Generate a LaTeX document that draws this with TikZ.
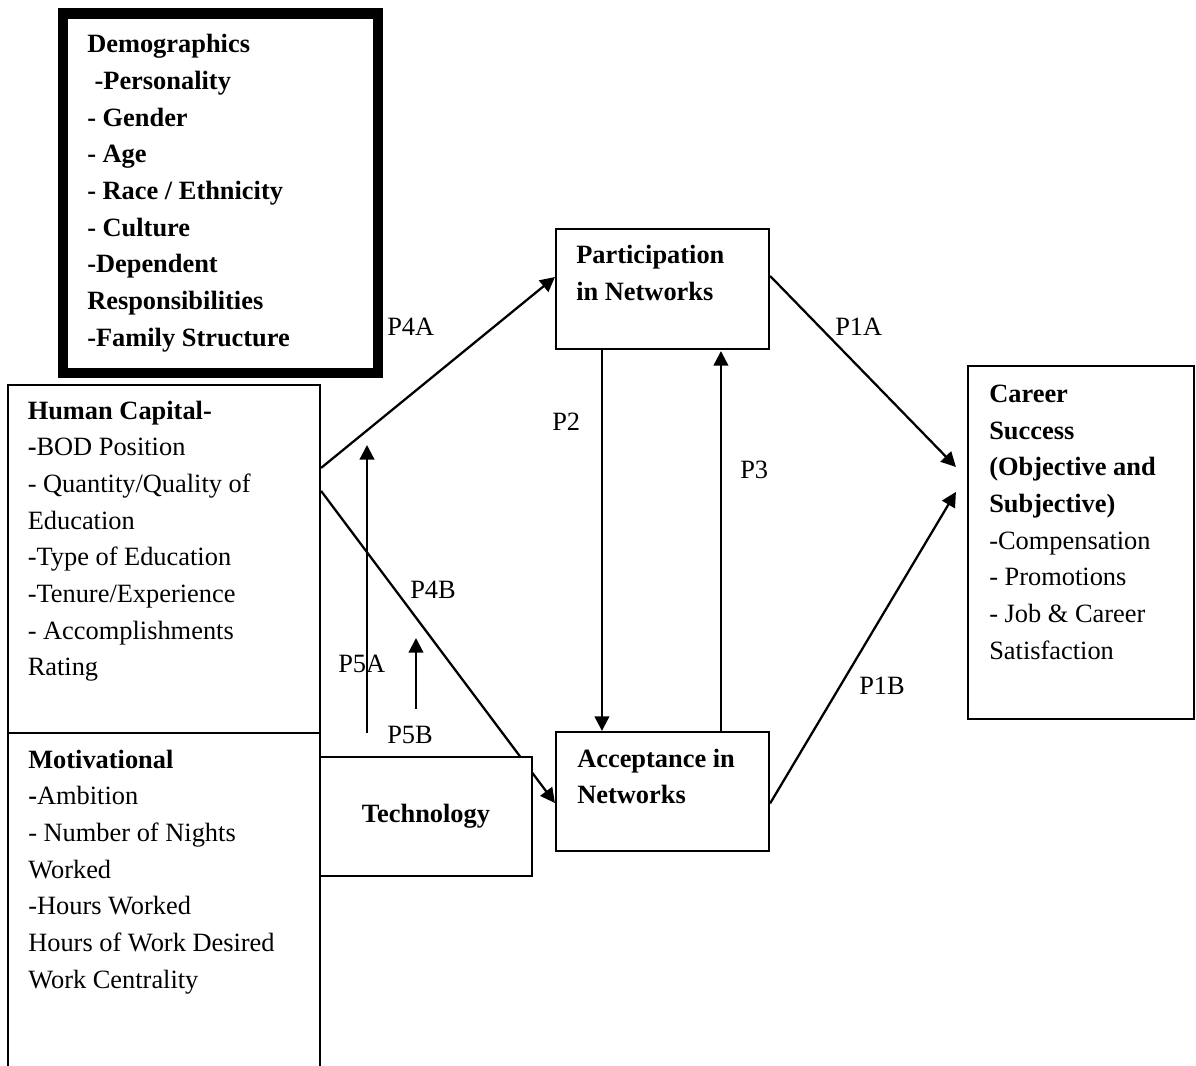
\documentclass[tikz,border=0pt]{standalone}
\usepackage{fontspec}
\setmainfont{Liberation Serif}
\usetikzlibrary{arrows.meta,calc}
\begin{document}
\begin{tikzpicture}[x=0.75pt,y=-0.75pt,
  box/.style={draw,line width=1.6pt,inner sep=0pt,fill=white},
  txt/.style={inner sep=0pt,anchor=base west,align=left,font=\fontsize{19.8pt}{27.5pt}\selectfont},
  btxt/.style={txt,font=\fontsize{19.8pt}{27.5pt}\selectfont\bfseries},
  lbl/.style={inner sep=0pt,anchor=base west,font=\fontsize{19.8pt}{27.5pt}\selectfont},
  arr/.style={line width=1.7pt,-{Triangle[length=11pt,width=11pt]}}]
\useasboundingbox (0,0) rectangle (1196,1065);

% boxes
\node[box,line width=7.9pt,minimum width=236.25pt,minimum height=269.6pt] (demo) at (220.5,193.25) {};
\node[box,minimum width=234pt,minimum height=264pt] (mot) at (164,909) {};
\node[box,minimum width=234pt,minimum height=261pt] (hc) at (164,559) {};
\node[box,minimum width=159.75pt,minimum height=90pt] (part) at (662.5,289) {};
\node[box,minimum width=159.75pt,minimum height=89.25pt] (acc) at (662.5,791.5) {};
\node[box,minimum width=169.5pt,minimum height=264.75pt] (career) at (1081,542.5) {};

% texts (anchored at the baseline of their last line)
\node[btxt] (demotxt) at (87,346.3) {Demographics\\
\hspace{5.5pt}-Personality\\
- Gender\\
- Age\\
- Race / Ethnicity\\
- Culture\\
-Dependent\\
Responsibilities\\
-Family Structure};
\node[txt] (hctxt) at (27.5,675.7) {\textbf{Human Capital-}\\
\textbf{-}BOD Position\\
- Quantity/Quality of\\
Education\\
-Type of Education\\
-Tenure/Experience\\
- Accomplishments\\
Rating};
\node[txt] (mottxt) at (28,988) {\textbf{Motivational}\\
\textbf{-}Ambition\\
- Number of Nights\\
Worked\\
-Hours Worked\\
Hours of Work Desired\\
Work Centrality};
\node[btxt] (parttxt) at (576,300) {Participation\\ in Networks};
\node[btxt] (acctxt) at (577,803.7) {Acceptance in\\ Networks};
\node[txt] (cartxt) at (989,659.2) {\textbf{Career}\\
\textbf{Success}\\
\textbf{(Objective and}\\
\textbf{Subjective)}\\
-Compensation\\
- Promotions\\
- Job \& Career\\
Satisfaction};

% moderator arrow coordinates
\coordinate (p5abot) at (367,733);
\coordinate (p5atop) at (367,445);
\coordinate (p5bbot) at (416,709);
\coordinate (p5btop) at (416,638);

% connectors
\draw[arr] ($(hc.north east)+(0,84)$) -- ($(part.west)+(0,-12)$);
\draw[arr] ($(hc.north east)+(0,107)$) -- ($(acc.west)+(0,11.5)$);
\draw[arr] ($(part.south west)+(47,0)$) -- ($(acc.north west)+(47,0)$);
\draw[arr] ($(acc.north west)+(166,0)$) -- ($(part.south west)+(166,1)$);
\draw[arr] ($(part.north east)+(0,48)$) -- ($(career.north west)+(-11,102)$);
\draw[arr] ($(acc.north east)+(0,72.5)$) -- ($(career.north west)+(-11,127)$);
\draw[arr] (p5abot) -- (p5atop);
\draw[arr] (p5bbot) -- (p5btop);

% technology box over the P4B line
\node[box,minimum width=159pt,minimum height=89.25pt,font=\fontsize{19.8pt}{27.5pt}\selectfont\bfseries] (tech) at (426,816.5) {Technology};

% labels
\node[lbl] (l4a) at (387,335) {P4A};
\node[lbl] (l1a) at (835,335) {P1A};
\node[lbl] (l2) at (552,430) {P2};
\node[lbl] (l3) at (740,478) {P3};
\node[lbl] (l4b) at (410,598) {P4B};
\node[lbl] (l5a) at (338,672) {P5A};
\node[lbl] (l5b) at (387,743) {P5B};
\node[lbl] (l1b) at (859,694) {P1B};
\end{tikzpicture}
\end{document}
